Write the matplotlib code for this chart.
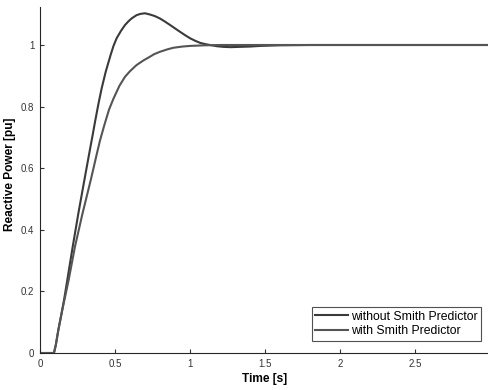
import matplotlib
matplotlib.use("Agg")
import matplotlib.pyplot as plt
from matplotlib.ticker import FuncFormatter

plt.rcParams['font.family'] = ['Liberation Sans', 'DejaVu Sans']

# step response without Smith Predictor (overshoot)
t_without = [0, 0.093, 0.105, 0.122, 0.144, 0.163, 0.182, 0.218, 0.256, 0.296,
             0.329, 0.35, 0.367, 0.39, 0.411, 0.438, 0.471, 0.49, 0.511, 0.54,
             0.567, 0.59, 0.61, 0.644, 0.67, 0.70, 0.733, 0.765, 0.80, 0.83,
             0.867, 0.90, 0.933, 0.967, 1.0, 1.033, 1.067, 1.10, 1.133, 1.18,
             1.222, 1.27, 1.333, 1.40, 1.467, 1.6, 1.8, 2.0, 3.0]
q_without = [0, 0, 0.025, 0.074, 0.129, 0.18, 0.237, 0.345, 0.454, 0.562,
             0.65, 0.705, 0.751, 0.81, 0.859, 0.913, 0.968, 0.997, 1.022, 1.046,
             1.065, 1.077, 1.086, 1.097, 1.101, 1.103, 1.099, 1.094, 1.086, 1.077,
             1.065, 1.054, 1.043, 1.032, 1.022, 1.014, 1.007, 1.003, 1.0, 0.996,
             0.994, 0.993, 0.994, 0.995, 0.997, 0.999, 1.0, 1.0, 1.0]

# step response with Smith Predictor (overdamped)
t_with = [0, 0.093, 0.105, 0.122, 0.144, 0.191, 0.233, 0.282, 0.34, 0.36,
          0.378, 0.40, 0.429, 0.46, 0.489, 0.53, 0.567, 0.60, 0.644, 0.69,
          0.733, 0.76, 0.8, 0.85, 0.889, 0.95, 1.0, 1.1, 1.2, 1.4,
          1.6, 2.0, 3.0]
q_with = [0, 0, 0.025, 0.074, 0.129, 0.237, 0.345, 0.45, 0.565, 0.607,
          0.645, 0.69, 0.74, 0.79, 0.825, 0.868, 0.897, 0.915, 0.935, 0.95,
          0.962, 0.97, 0.978, 0.986, 0.991, 0.995, 0.997, 0.999, 1.0, 1.0,
          1.0, 1.0, 1.0]

x_ticks = [0, 0.5, 1, 1.5, 2, 2.5]
y_ticks = [0, 0.2, 0.4, 0.6, 0.8, 1]

fig = plt.figure(figsize=(4.88, 3.90), dpi=100)
ax = fig.add_axes([40 / 488, 37 / 390, 450 / 488, 346.5 / 390])

ax.plot(t_without, q_without, color='#3a3a3a', lw=1.5, label='without Smith Predictor')
ax.plot(t_with, q_with, color='#555555', lw=1.5, label='with Smith Predictor')

ax.set_xlim(0, 3)
ax.set_ylim(0, 1.125)
ax.set_xticks(x_ticks)
ax.set_yticks(y_ticks)
fmt = FuncFormatter(lambda v, p: '%g' % v)
ax.xaxis.set_major_formatter(fmt)
ax.yaxis.set_major_formatter(fmt)

for s in ['top', 'right']:
    ax.spines[s].set_visible(False)
for s in ['left', 'bottom']:
    ax.spines[s].set_color('#262626')
    ax.spines[s].set_linewidth(0.8)
ax.tick_params(direction='in', length=3, width=0.8, colors='#333333',
               labelsize=7, pad=4)

ax.set_xlabel('Time [s]', fontsize=8.6, fontweight='bold')
ax.set_ylabel('Reactive Power [pu]', fontsize=8.6, fontweight='bold')
ax.xaxis.set_label_coords(0.5, -0.057)
ax.yaxis.set_label_coords(-0.053, 0.515)

leg = ax.legend(loc='lower right', fontsize=8.8, frameon=True, fancybox=False,
                handlelength=2.7, handletextpad=0.2, borderpad=0.3,
                labelspacing=0.2, borderaxespad=0,
                bbox_to_anchor=(0.98, 0.035))
leg.get_frame().set_edgecolor('#262626')
leg.get_frame().set_linewidth(0.8)

fig.savefig('out.png', dpi=100)
